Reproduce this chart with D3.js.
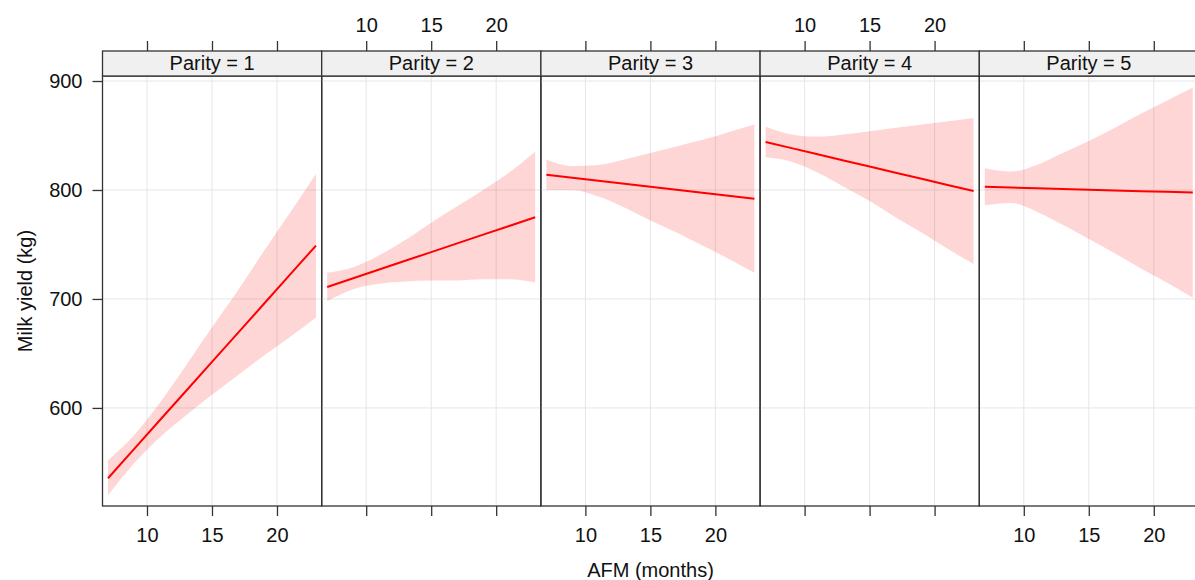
<!DOCTYPE html>
<html>
<head>
<meta charset="utf-8">
<script src="https://cdn.jsdelivr.net/npm/d3@7"></script>
<style>
  body { margin: 0; background: #fff; }
  svg { display: block; font-family: "Liberation Sans", Arial, sans-serif; }
</style>
</head>
<body>
<div id="chart"></div>
<script>
'use strict'

const afm = [7, 9, 11, 13, 15, 17, 19, 21, 23];
const parities = [1, 2, 3, 4, 5];

const fit1 = [535.5, 562.2, 588.9, 615.5, 642.2, 668.9, 695.6, 722.3, 749.0];
const lower1 = [520, 549, 573, 593, 612, 630, 648, 665, 683];
const upper1 = [552, 575, 605, 639, 674, 708, 744, 779, 815];

const fit2 = [711, 719, 727, 735, 743, 751, 759, 767, 775];
const lower2 = [698, 709, 714, 716, 717, 717, 718, 718, 715];
const upper2 = [724, 729, 740, 754, 770, 785, 800, 816, 835];

const fit3 = [814.0, 811.2, 808.5, 805.7, 803.0, 800.2, 797.5, 794.7, 792.0];
const lower3 = [800, 800, 794, 784, 772, 761, 749, 737, 724];
const upper3 = [828, 822, 823, 828, 834, 840, 846, 853, 860];

const fit4 = [844.0, 838.4, 832.8, 827.1, 821.5, 815.9, 810.3, 804.6, 799.0];
const lower4 = [830, 826, 816, 803, 790, 775, 761, 746, 732];
const upper4 = [858, 851, 849, 851, 854, 857, 860, 863, 866];

const fit5 = [803.0, 802.3, 801.6, 801.0, 800.3, 799.6, 798.9, 798.3, 797.6];
const lower5 = [786, 788, 780, 768, 755, 742, 728, 715, 701];
const upper5 = [820, 817, 823, 834, 845, 857, 870, 882, 894];

const xTicks = [10, 15, 20];
const yTicks = [600, 700, 800, 900];

const fits = [fit1, fit2, fit3, fit4, fit5];
const lowers = [lower1, lower2, lower3, lower4, lower5];
const uppers = [upper1, upper2, upper3, upper4, upper5];

const W = 1195, H = 580;
const left0 = 102.5, pw = 219.2;
const stripTop = 51, plotTop = 76, plotBottom = 506;

const svg = d3.select('#chart').append('svg')
    .attr('width', W)
    .attr('height', H);

const x = d3.scaleLinear().domain([6.577, 23.44]).range([0, pw]);
const y = d3.scaleLinear().domain([510, 904.6]).range([plotBottom, plotTop]);

svg.append('defs').append('clipPath')
    .attr('id', 'clip')
    .append('rect')
    .attr('x', 0).attr('y', plotTop)
    .attr('width', pw).attr('height', plotBottom - plotTop);

const area = d3.area()
    .x((d, i) => x(afm[i]))
    .y0(d => d[0])
    .y1(d => d[1])
    .curve(d3.curveMonotoneX);

const line = d3.line()
    .x((d, i) => x(afm[i]))
    .y(d => y(d));

parities.forEach((p, k) => {
    const g = svg.append('g')
        .attr('transform', `translate(${left0 + k * pw},0)`);

    const inner = g.append('g').attr('clip-path', 'url(#clip)');

    // grid
    inner.selectAll('.vgrid')
        .data(xTicks)
        .enter().append('line')
        .attr('x1', d => x(d)).attr('x2', d => x(d))
        .attr('y1', plotTop).attr('y2', plotBottom)
        .style('stroke', '#e6e6e6').style('stroke-width', 1);
    inner.selectAll('.hgrid')
        .data(yTicks)
        .enter().append('line')
        .attr('x1', 0).attr('x2', pw)
        .attr('y1', d => y(d)).attr('y2', d => y(d))
        .style('stroke', '#e6e6e6').style('stroke-width', 1);

    // confidence band
    const band = lowers[k].map((lo, i) => [y(lo), y(uppers[k][i])]);
    inner.append('path')
        .attr('d', area(band))
        .style('fill', '#ff0000')
        .style('fill-opacity', 0.16)
        .style('stroke', 'none');

    inner.append('path')
        .attr('d', line(fits[k]))
        .style('fill', 'none')
        .style('stroke', '#ff0000')
        .style('stroke-width', 2);

    // panel border
    g.append('rect')
        .attr('x', 0).attr('y', plotTop)
        .attr('width', pw).attr('height', plotBottom - plotTop)
        .style('fill', 'none').style('stroke', '#333').style('stroke-width', 1.3);

    // strip
    g.append('rect')
        .attr('x', 0).attr('y', stripTop)
        .attr('width', pw).attr('height', plotTop - stripTop)
        .style('fill', '#f0f0f0').style('stroke', '#333').style('stroke-width', 1.3);
    g.append('text')
        .attr('x', pw / 2).attr('y', plotTop - 6)
        .attr('text-anchor', 'middle')
        .style('font-size', '20px')
        .style('fill', '#111')
        .text('Parity = ' + p);

    // alternating axes
    const top = g.append('g')
        .attr('transform', `translate(0,${stripTop})`)
        .call(d3.axisTop(x).tickValues(xTicks).tickSize(10).tickPadding(9)
            .tickFormat(k % 2 === 1 ? d3.format('d') : () => ''));
    const bottom = g.append('g')
        .attr('transform', `translate(0,${plotBottom})`)
        .call(d3.axisBottom(x).tickValues(xTicks).tickSize(10).tickPadding(12)
            .tickFormat(k % 2 === 0 ? d3.format('d') : () => ''));
    [top, bottom].forEach(a => {
        a.select('.domain').remove();
        a.selectAll('line').style('stroke', '#333').style('stroke-width', 1.3);
        a.selectAll('text').style('font-size', '20px').style('fill', '#111')
            .style('font-family', '"Liberation Sans", Arial, sans-serif');
    });
});

const yAxis = svg.append('g')
    .attr('transform', `translate(${left0},0)`)
    .call(d3.axisLeft(y).tickValues(yTicks).tickSize(10).tickPadding(10));
yAxis.select('.domain').remove();
yAxis.selectAll('line').style('stroke', '#333').style('stroke-width', 1.3);
yAxis.selectAll('text').style('font-size', '20px').style('fill', '#111')
    .style('font-family', '"Liberation Sans", Arial, sans-serif');

svg.append('text')
    .attr('x', left0 + 2.5 * pw).attr('y', 577)
    .attr('text-anchor', 'middle')
    .style('font-size', '20px').style('fill', '#111')
    .text('AFM (months)');

svg.append('text')
    .attr('transform', `translate(32,${(plotTop + plotBottom) / 2}) rotate(-90)`)
    .attr('text-anchor', 'middle')
    .style('font-size', '20px').style('fill', '#111')
    .text('Milk yield (kg)');
</script>
</body>
</html>
